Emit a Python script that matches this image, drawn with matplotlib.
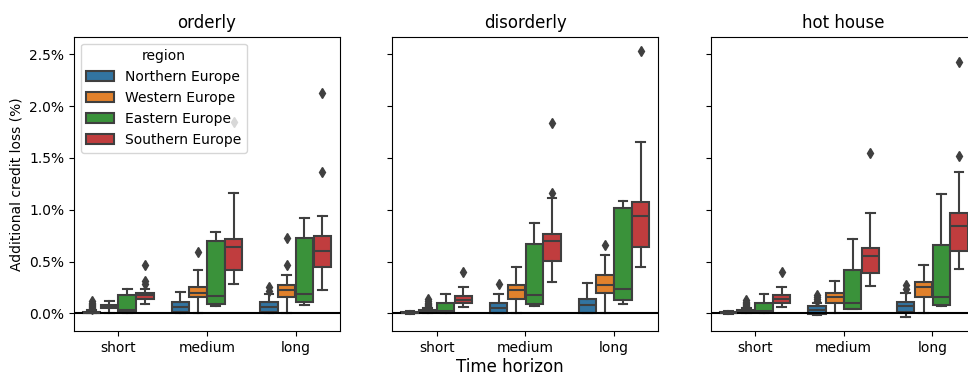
import matplotlib
matplotlib.use("Agg")
import matplotlib.pyplot as plt
from matplotlib.patches import Patch
from matplotlib.ticker import PercentFormatter

# values in %, order: short N W E S, medium N W E S, long N W E S
horizons = ["short", "medium", "long"]
regions = ["Northern Europe", "Western Europe", "Eastern Europe", "Southern Europe"]
scenarios = ["orderly", "disorderly", "hot house"]
colors = ["#3274a1", "#e1812c", "#3a923a", "#c03d3e"]

orderly_q1 = [0.0, 0.048, 0.016, 0.14, 0.015, 0.154, 0.09, 0.42, 0.016, 0.16, 0.11, 0.45]
orderly_med = [0.005, 0.064, 0.03, 0.174, 0.064, 0.20, 0.167, 0.64, 0.064, 0.225, 0.187, 0.60]
orderly_q3 = [0.015, 0.08, 0.177, 0.20, 0.11, 0.257, 0.70, 0.72, 0.11, 0.27, 0.73, 0.746]
orderly_lo = [0.0, 0.0, 0.0, 0.09, 0.0, 0.0, 0.07, 0.28, 0.0, 0.0, 0.077, 0.225]
orderly_hi = [0.03, 0.12, 0.235, 0.235, 0.21, 0.42, 0.78, 1.165, 0.19, 0.37, 0.92, 0.943]
orderly_fliers = [[0.04, 0.05, 0.06, 0.07, 0.08, 0.09, 0.10, 0.12], [], [], [0.28, 0.31, 0.47],
                  [], [0.59], [], [1.85],
                  [0.22, 0.25], [0.47, 0.73], [], [1.36, 2.13]]

disorderly_q1 = [0.002, 0.01, 0.016, 0.096, 0.0, 0.135, 0.087, 0.505, 0.0, 0.20, 0.13, 0.64]
disorderly_med = [0.006, 0.02, 0.02, 0.128, 0.048, 0.225, 0.177, 0.70, 0.08, 0.273, 0.235, 0.94]
disorderly_q3 = [0.012, 0.03, 0.10, 0.167, 0.097, 0.27, 0.666, 0.77, 0.135, 0.367, 1.013, 1.07]
disorderly_lo = [-0.005, 0.0, 0.0, 0.058, 0.0, 0.0, 0.07, 0.30, 0.0, 0.0, 0.09, 0.45]
disorderly_hi = [0.025, 0.05, 0.183, 0.257, 0.19, 0.45, 0.87, 1.11, 0.296, 0.56, 1.087, 1.657]
disorderly_fliers = [[], [0.06, 0.07, 0.08, 0.09, 0.10, 0.12, 0.14], [], [0.40],
                     [0.28], [], [], [1.165, 1.84],
                     [], [0.66], [], [2.535]]

hothouse_q1 = [0.002, 0.01, 0.016, 0.096, -0.005, 0.10, 0.042, 0.39, 0.016, 0.16, 0.077, 0.604]
hothouse_med = [0.006, 0.02, 0.02, 0.138, 0.03, 0.16, 0.097, 0.553, 0.07, 0.25, 0.16, 0.843]
hothouse_q3 = [0.012, 0.03, 0.10, 0.174, 0.07, 0.20, 0.418, 0.627, 0.112, 0.305, 0.659, 0.971]
hothouse_lo = [-0.005, 0.0, 0.0, 0.058, -0.02, 0.0, 0.04, 0.264, -0.033, 0.0, 0.07, 0.425]
hothouse_hi = [0.025, 0.05, 0.19, 0.257, 0.10, 0.315, 0.717, 0.965, 0.193, 0.466, 1.15, 1.361]
hothouse_fliers = [[], [0.06, 0.07, 0.08, 0.09, 0.10, 0.11, 0.13], [], [0.40],
                   [0.12, 0.14, 0.16, 0.18], [], [], [1.545],
                   [0.23, 0.27], [], [], [1.518, 2.426]]

panel_data = [
    (orderly_q1, orderly_med, orderly_q3, orderly_lo, orderly_hi, orderly_fliers),
    (disorderly_q1, disorderly_med, disorderly_q3, disorderly_lo, disorderly_hi, disorderly_fliers),
    (hothouse_q1, hothouse_med, hothouse_q3, hothouse_lo, hothouse_hi, hothouse_fliers),
]

gray = "#3f3f3f"
fig = plt.figure(figsize=(9.68, 3.77), dpi=100)
lefts = [0.0764, 0.4053, 0.7342]
axes = [fig.add_axes([l, 0.122, 0.2748, 0.7806]) for l in lefts]

offsets = [-0.3, -0.1, 0.1, 0.3]
bw = 0.196
for ax, title, (q1, med, q3, lo, hi, fl) in zip(axes, scenarios, panel_data):
    for h in range(len(horizons)):
        for r in range(len(regions)):
            i = h * len(regions) + r
            st = [dict(med=med[i], q1=q1[i], q3=q3[i], whislo=lo[i], whishi=hi[i], fliers=fl[i])]
            ax.bxp(st, positions=[h + offsets[r]], widths=bw, patch_artist=True,
                   boxprops=dict(facecolor=colors[r], edgecolor=gray, linewidth=1.5),
                   medianprops=dict(color=gray, linewidth=1.5),
                   whiskerprops=dict(color=gray, linewidth=1.5),
                   capprops=dict(color=gray, linewidth=1.5),
                   flierprops=dict(marker="d", markerfacecolor=gray, markeredgecolor=gray,
                                   markersize=5, linestyle="none"),
                   manage_ticks=False)
    ax.axhline(0, color="k", linewidth=1.5)
    ax.set_xlim(-0.5, 2.5)
    ax.set_ylim(-0.171, 2.67)
    ax.set_xticks(range(len(horizons)))
    ax.set_xticklabels(horizons)
    ax.set_yticks([0, 0.5, 1.0, 1.5, 2.0, 2.5])
    ax.yaxis.set_major_formatter(PercentFormatter(100, decimals=1))
    ax.set_title(title, fontsize=12)
    if ax is not axes[0]:
        ax.tick_params(axis="y", labelleft=False)

axes[0].set_ylabel("Additional credit loss (%)")
fig.text(510 / 968, 1 - 367 / 377, "Time horizon", ha="center", va="center", fontsize=12)

handles = [Patch(facecolor=c, edgecolor=gray, linewidth=1.5, label=n) for c, n in zip(colors, regions)]
axes[0].legend(handles=handles, title="region", loc="upper left")

fig.savefig("out.png", dpi=100)
